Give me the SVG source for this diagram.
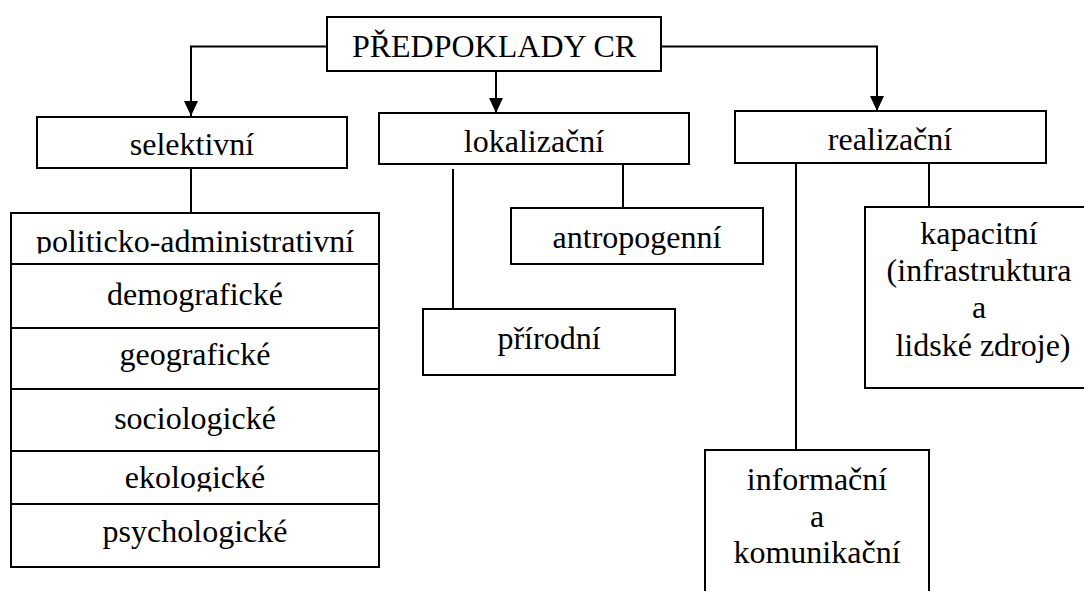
<svg xmlns="http://www.w3.org/2000/svg" width="1084" height="591" viewBox="0 0 1084 591">
<style>
.box{fill:#fff;stroke:#000;stroke-width:2}
.ln{fill:none;stroke:#000;stroke-width:2}
.t{font-family:"Liberation Serif","Times New Roman",Times,serif;font-size:32px;fill:#000;text-anchor:middle}
</style>
<defs>
<marker id="arr" markerUnits="userSpaceOnUse" markerWidth="15" markerHeight="14" viewBox="0 0 15 14" refX="15" refY="7" orient="auto">
<path d="M0,0 L15,7 L0,14 Z" fill="#000"/>
</marker>
<clipPath id="c1"><rect x="11" y="212" width="368" height="41.5"/></clipPath>
<clipPath id="c5"><rect x="11" y="451" width="368" height="40.5"/></clipPath>
</defs>
<rect width="1084" height="591" fill="#fff"/>
<g id="connectors">
<path class="ln" d="M327,46.5 H191 V116" marker-end="url(#arr)"/>
<path class="ln" d="M496,71 V113" marker-end="url(#arr)"/>
<path class="ln" d="M661,46.5 H877 V111" marker-end="url(#arr)"/>
<path class="ln" d="M191,168 V212"/>
<path class="ln" d="M453,169 V309"/>
<path class="ln" d="M623,164 V208"/>
<path class="ln" d="M796,163 V450"/>
<path class="ln" d="M929,163 V207"/>
</g>
<g id="root">
<rect class="box" x="327" y="17" width="334" height="54"/>
<text class="t" x="494" y="57">PŘEDPOKLADY CR</text>
</g>
<g id="selektivni">
<rect class="box" x="37" y="117" width="310" height="51"/>
<text class="t" x="192" y="155">selektivní</text>
</g>
<g id="lokalizacni">
<rect class="box" x="379" y="113" width="310" height="51"/>
<text class="t" x="534" y="152">lokalizační</text>
</g>
<g id="realizacni">
<rect class="box" x="735" y="111" width="311" height="52"/>
<text class="t" x="890" y="150">realizační</text>
</g>
<g id="seznam">
<rect class="box" x="11" y="213" width="368" height="354"/>
<path class="ln" d="M11,264 H379 M11,328 H379 M11,389 H379 M11,451 H379 M11,504 H379"/>
<text class="t" x="195" y="252" clip-path="url(#c1)">politicko-administrativní</text>
<text class="t" x="195" y="305">demografické</text>
<text class="t" x="195" y="365">geografické</text>
<text class="t" x="195" y="429">sociologické</text>
<text class="t" x="195" y="488" clip-path="url(#c5)">ekologické</text>
<text class="t" x="195" y="542">psychologické</text>
</g>
<g id="antropogenni">
<rect class="box" x="511" y="208" width="252" height="56"/>
<text class="t" x="637" y="248">antropogenní</text>
</g>
<g id="prirodni">
<rect class="box" x="423" y="309" width="252" height="66"/>
<text class="t" x="549" y="349">přírodní</text>
</g>
<g id="kapacitni">
<rect class="box" x="865" y="207" width="240" height="181"/>
<text class="t" x="979" y="244">kapacitní</text>
<text class="t" x="979" y="281">(infrastruktura</text>
<text class="t" x="979" y="318">a</text>
<text class="t" x="983" y="356">lidské zdroje)</text>
</g>
<g id="informacni">
<rect class="box" x="705" y="450" width="224" height="160"/>
<text class="t" x="817" y="490">informační</text>
<text class="t" x="817" y="527">a</text>
<text class="t" x="817" y="563">komunikační</text>
</g>
</svg>
